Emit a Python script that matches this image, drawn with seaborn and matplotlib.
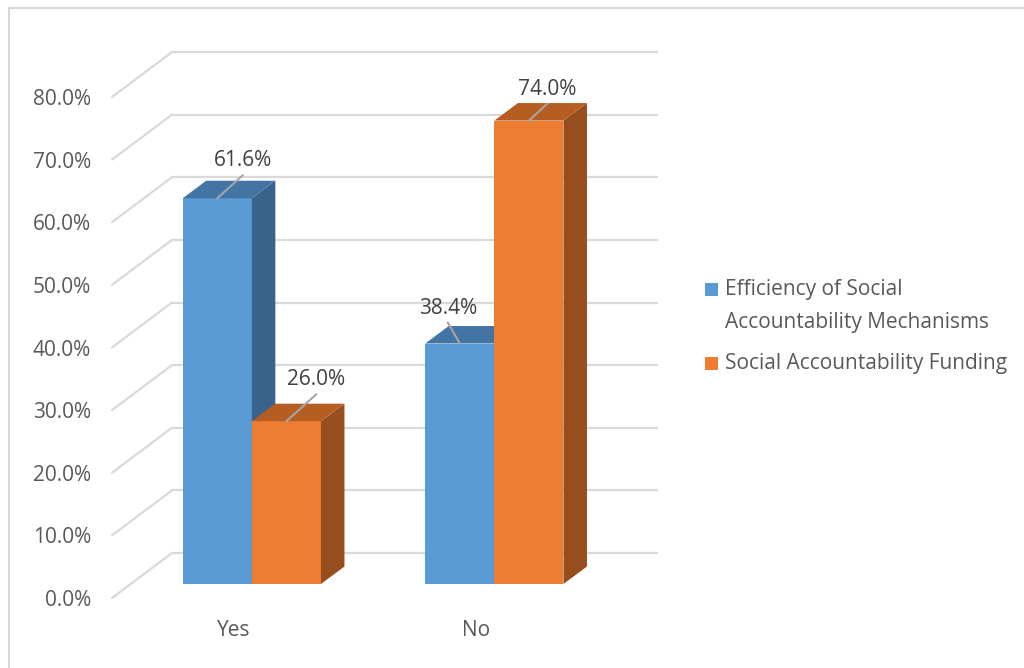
import matplotlib
matplotlib.use("Agg")
import matplotlib.pyplot as plt
import matplotlib.transforms as mtransforms
from matplotlib.patches import Polygon, Rectangle
from matplotlib.lines import Line2D
import seaborn as sns
import pandas as pd

# ---- data ----
categories = ["Yes", "No"]
series_names = ["Efficiency of Social\nAccountability Mechanisms",
                "Social Accountability Funding"]
efficiency = [61.6, 38.4]
funding = [26.0, 74.0]
y_ticks = [0, 10, 20, 30, 40, 50, 60, 70, 80]

df = pd.DataFrame({
    "category": categories * 2,
    "series": [series_names[0]] * 2 + [series_names[1]] * 2,
    "value": efficiency + funding,
})

# ---- style ----
front_colors = ["#5B9BD5", "#ED7D31"]
top_colors = ["#4375A4", "#B65E22"]
side_colors = ["#39638A", "#964E1E"]
grid_color = "#D9D9D9"
text_color = "#595959"
label_color = "#404040"
leader_color = "#A6A6A6"
FONT = "Open Sans"
FS = 15

sns.set_theme(style="white")
plt.rcParams["font.family"] = [FONT, "DejaVu Sans"]

W, H = 1024, 668
fig = plt.figure(figsize=(W / 100, H / 100), dpi=100)
# axes = front plane of the floor (pixel box 112..597 x 97..598)
ax = fig.add_axes([112 / W, (H - 598) / H, 485 / W, 501 / H])

sns.barplot(data=df, x="category", y="value", hue="series",
            palette=front_colors, saturation=1, width=0.57,
            linewidth=0, legend=False, ax=ax, zorder=3)

ax.set_xlim(-0.5, 1.5)
ax.set_ylim(0, 80)
ax.set_yticks(y_ticks)
ax.set_yticklabels([f"{v:.1f}%" for v in y_ticks])
ax.set_xlabel("")
ax.set_ylabel("")
for s in ax.spines.values():
    s.set_visible(False)
ax.grid(False)
ax.tick_params(axis="y", length=0, pad=15, labelsize=FS, labelcolor=text_color)
ax.tick_params(axis="x", length=0, pad=15.5, labelsize=FS, labelcolor=text_color)

# depth offsets in pixels (right, up)
BAR_DX, BAR_DY = 18.6, 14.0      # floor front -> bar front face
DEP_DX, DEP_DY = 23.5, 17.5      # bar front face -> bar back face
WALL_DX, WALL_DY = 60.0, 45.0    # floor front -> back wall

ident = mtransforms.IdentityTransform()
fig.canvas.draw()
tdata = ax.transData

# back wall gridlines and left-wall diagonals
wall_tr = mtransforms.offset_copy(tdata, fig=fig, x=WALL_DX, y=WALL_DY, units="dots")
for v in y_ticks:
    ax.plot([-0.5, 1.5], [v, v], transform=wall_tr, color=grid_color,
            lw=1.6, clip_on=False, zorder=0.5)
    x0, y0 = tdata.transform((-0.5, v))
    ax.add_line(Line2D([x0, x0 + WALL_DX], [y0, y0 + WALL_DY], transform=ident,
                       color=grid_color, lw=1.6, clip_on=False, zorder=0.5))

# 3D bar faces built on seaborn's bars
bar_tr = mtransforms.offset_copy(tdata, fig=fig, x=BAR_DX, y=BAR_DY, units="dots")
bars = list(ax.patches)
n = len(categories)
info = []
for i, p in enumerate(bars):
    s_idx = i // n
    info.append((p.get_x(), s_idx, i % n, p))
info.sort(key=lambda t: t[0])

z = 3
for x_left, s_idx, c_idx, p in info:
    h = p.get_height()
    x_right = x_left + p.get_width()
    p.set_transform(bar_tr)
    p.set_clip_on(False)
    p.set_zorder(z)
    (ax0, ay0) = tdata.transform((x_left, 0))
    (ax1, ay1) = tdata.transform((x_right, h))
    fx0, fy0 = ax0 + BAR_DX, ay0 + BAR_DY
    fx1, fy1 = ax1 + BAR_DX, ay1 + BAR_DY
    top = [(fx0, fy1), (fx1, fy1), (fx1 + DEP_DX, fy1 + DEP_DY), (fx0 + DEP_DX, fy1 + DEP_DY)]
    side = [(fx1, fy0), (fx1 + DEP_DX, fy0 + DEP_DY), (fx1 + DEP_DX, fy1 + DEP_DY), (fx1, fy1)]
    ax.add_patch(Polygon(side, closed=True, transform=ident, facecolor=side_colors[s_idx],
                         edgecolor="none", clip_on=False, zorder=z + 0.1))
    ax.add_patch(Polygon(top, closed=True, transform=ident, facecolor=top_colors[s_idx],
                         edgecolor="none", clip_on=False, zorder=z + 0.2))
    z += 1

# data labels with leader lines (offsets in pixels from bar front top centre)
leader_ends = {(0, 0): (25.5, 23), (0, 1): (30, 27), (1, 0): (-12, 21), (1, 1): (18.5, 17)}
for x_left, s_idx, c_idx, p in info:
    h = p.get_height()
    cx, cy = tdata.transform((x_left + p.get_width() / 2, h))
    cx += BAR_DX
    cy += BAR_DY
    lx, ly = leader_ends[(c_idx, s_idx)]
    ax.add_line(Line2D([cx, cx + lx], [cy, cy + ly], transform=ident, color=leader_color,
                       lw=1.5, clip_on=False, zorder=20))
    ax.text(cx + lx, cy + ly + 4, f"{h:.1f}%", transform=ident, ha="center", va="bottom",
            fontsize=FS, color=label_color, zorder=21)

# legend
legend_items = [(series_names[0], front_colors[0], 289), (series_names[1], front_colors[1], 363)]
for name, col, yc in legend_items:
    ax.add_patch(Rectangle((705, H - yc - 6.5), 13, 13, transform=ident, facecolor=col,
                           edgecolor="none", clip_on=False))
    if "\n" in name:
        fig.text(725 / W, (H - yc + 10) / H, name, ha="left", va="top",
                 fontsize=FS, color=text_color, linespacing=1.72)
    else:
        fig.text(725 / W, (H - yc) / H, name, ha="left", va="center",
                 fontsize=FS, color=text_color)

# chart area border
fig.add_artist(Line2D([9, 9], [0, H - 8], transform=ident, color=grid_color, lw=1.5))
fig.add_artist(Line2D([9, W], [H - 8, H - 8], transform=ident, color=grid_color, lw=1.5))

fig.savefig("out.png", dpi=100)
